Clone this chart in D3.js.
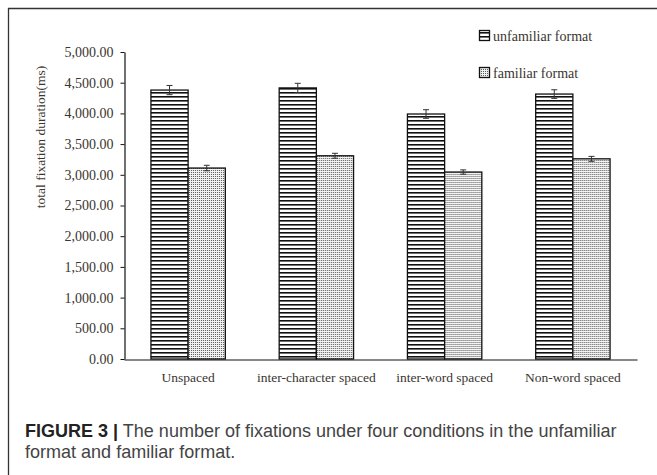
<!DOCTYPE html>
<html>
<head>
<meta charset="utf-8">
<script src="https://cdn.jsdelivr.net/npm/d3@7"></script>
<style>
  html, body { margin: 0; padding: 0; background: #fff; }
  svg { display: block; }
</style>
</head>
<body>
<svg id="chart" width="657" height="475"></svg>
<script>
// ---- data ----
const categories = ["Unspaced", "inter-character spaced", "inter-word spaced", "Non-word spaced"];
const seriesNames = ["unfamiliar format", "familiar format"];
const unfamiliarValues = [4380, 4415, 3990, 4315];
const familiarValues = [3110, 3310, 3045, 3260];
const unfamiliarErrors = [75, 75, 70, 70];
const familiarErrors = [45, 40, 35, 40];
const yTicks = [0, 500, 1000, 1500, 2000, 2500, 3000, 3500, 4000, 4500, 5000];
const yTitle = "total fixation duration(ms)";
const captionBold = "FIGURE 3 |";
const captionLine1 = " The number of fixations under four conditions in the unfamiliar";
const captionLine2 = "format and familiar format.";

const svg = d3.select("#chart");
const serif = "'Liberation Serif', 'DejaVu Serif', serif";
const sans = "'Liberation Sans', Arial, sans-serif";
const labelColor = "#3a3530";

// patterns
const defs = svg.append("defs");
const pH = defs.append("pattern").attr("id", "hstripe").attr("patternUnits", "userSpaceOnUse")
  .attr("width", 4).attr("height", 4);
pH.append("rect").attr("width", 4).attr("height", 4).attr("fill", "#fff");
pH.append("rect").attr("y", 0).attr("width", 4).attr("height", 1.6).attr("fill", "#111");
const pD = defs.append("pattern").attr("id", "dots").attr("patternUnits", "userSpaceOnUse")
  .attr("width", 2).attr("height", 2);
pD.append("rect").attr("width", 2).attr("height", 2).attr("fill", "#f2f2f2");
pD.append("rect").attr("x", 0).attr("y", 0).attr("width", 1).attr("height", 1).attr("fill", "#5a5a5a");
const fills = ["url(#hstripe)", "url(#dots)"];

// outer frame
svg.append("path").attr("d", "M8.5,475 L8.5,8.5 L657,8.5")
  .attr("fill", "none").attr("stroke", "#333").attr("stroke-width", 1.3);

// scales
const x0 = d3.scaleBand().domain(categories).range([124, 637]).paddingInner(0.42).paddingOuter(0.21);
const x1 = d3.scaleBand().domain(seriesNames).range([0, x0.bandwidth()]);
const y = d3.scaleLinear().domain([0, 5000]).range([359, 52]);

const data = categories.map((c, i) => ({
  cat: c,
  vals: [
    { s: seriesNames[0], v: unfamiliarValues[i], e: unfamiliarErrors[i], k: 0 },
    { s: seriesNames[1], v: familiarValues[i], e: familiarErrors[i], k: 1 }
  ]
}));

// y axis
const yAxis = d3.axisLeft(y).tickValues(yTicks).tickSize(4).tickSizeOuter(0)
  .tickFormat(d => d3.format(",.2f")(d));
const gy = svg.append("g").attr("transform", "translate(124.5,0)").call(yAxis);
gy.attr("font-family", serif);
gy.select(".domain").attr("stroke", "#111").attr("stroke-width", 1.2);
gy.selectAll(".tick line").attr("stroke", "#111");
gy.selectAll(".tick text").attr("font-family", serif).attr("font-size", 14)
  .attr("fill", labelColor).attr("x", -11);

// bars
const groups = svg.append("g").selectAll("g").data(data).join("g")
  .attr("transform", d => `translate(${x0(d.cat)},0)`);
groups.selectAll("rect").data(d => d.vals).join("rect")
  .attr("x", d => x1(d.s))
  .attr("y", d => y(d.v))
  .attr("width", x1.bandwidth())
  .attr("height", d => y(0) - y(d.v))
  .attr("fill", d => fills[d.k])
  .attr("stroke", "#111").attr("stroke-width", 1.3);

// error bars
const eb = groups.selectAll("g.err").data(d => d.vals).join("g").attr("class", "err")
  .attr("stroke", "#333").attr("stroke-width", 1);
eb.append("line")
  .attr("x1", d => x1(d.s) + x1.bandwidth() / 2).attr("x2", d => x1(d.s) + x1.bandwidth() / 2)
  .attr("y1", d => y(d.v + d.e)).attr("y2", d => y(d.v - d.e));
eb.append("line")
  .attr("x1", d => x1(d.s) + x1.bandwidth() / 2 - 3).attr("x2", d => x1(d.s) + x1.bandwidth() / 2 + 3)
  .attr("y1", d => y(d.v + d.e)).attr("y2", d => y(d.v + d.e));
eb.append("line")
  .attr("x1", d => x1(d.s) + x1.bandwidth() / 2 - 3).attr("x2", d => x1(d.s) + x1.bandwidth() / 2 + 3)
  .attr("y1", d => y(d.v - d.e)).attr("y2", d => y(d.v - d.e));

// x axis
const xAxis = d3.axisBottom(x0).tickSize(0).tickSizeOuter(0);
const gx = svg.append("g").attr("transform", "translate(0,359.5)").call(xAxis);
gx.attr("font-family", serif);
gx.select(".domain").attr("stroke", "#111").attr("stroke-width", 1.2);
gx.selectAll(".tick text").attr("font-family", serif).attr("font-size", 13.5)
  .attr("fill", labelColor).attr("dy", "1.45em");

// y title
svg.append("text")
  .attr("transform", "translate(45,137) rotate(-90)")
  .attr("text-anchor", "middle")
  .attr("font-family", serif).attr("font-size", 13.5).attr("fill", labelColor)
  .text(yTitle);

// legend
const legendY = [36, 73];
const leg = svg.append("g").selectAll("g").data(seriesNames).join("g")
  .attr("transform", (d, i) => `translate(479,${legendY[i]})`);
leg.append("rect").attr("x", 0.5).attr("y", -5.5).attr("width", 10).attr("height", 10)
  .attr("fill", (d, i) => fills[i]).attr("stroke", "#111").attr("stroke-width", 1.3);
leg.append("text").attr("x", 14).attr("y", 0).attr("dy", "0.35em")
  .attr("font-family", serif).attr("font-size", 14).attr("fill", labelColor)
  .text(d => d);

// caption
const cap = svg.append("g").attr("font-family", sans);
const t1 = cap.append("text").attr("x", 25).attr("y", 437).attr("font-size", 15.5);
t1.append("tspan").attr("font-weight", "bold").attr("fill", "#222").text(captionBold);
t1.append("tspan").attr("fill", "#444").text(captionLine1);
const t2 = cap.append("text").attr("x", 25).attr("y", 458).attr("font-size", 15.5)
  .attr("fill", "#444").text(captionLine2);
// fit the first caption line to the reference width
const w = t1.node().getComputedTextLength();
const fs = 15.5 * 592 / w;
t1.attr("font-size", fs);
t2.attr("font-size", fs);
</script>
</body>
</html>
